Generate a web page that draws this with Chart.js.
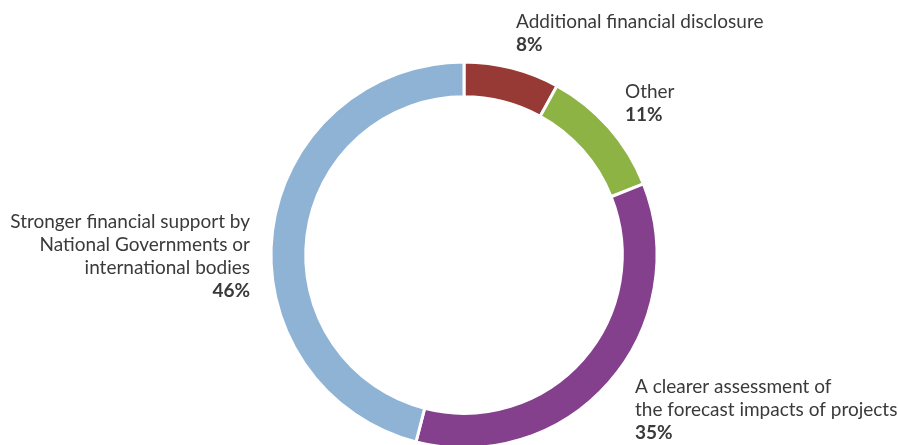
<!DOCTYPE html>
<html>
<head>
<meta charset="utf-8">
<script src="https://cdn.jsdelivr.net/npm/chart.js@4.4.0/dist/chart.umd.min.js"></script>
<style>
  html, body { margin: 0; padding: 0; background: #fff; overflow: hidden; }
  #wrap { width: 898px; height: 510px; }
</style>
</head>
<body>
<div id="wrap"><canvas id="donut"></canvas></div>
<script>
// -----------------------------
// Data
// -----------------------------
const categories = [
  "Additional financial disclosure",
  "Other",
  "A clearer assessment of the forecast impacts of projects",
  "Stronger financial support by National Governments or international bodies"
];
const shares = [8, 11, 35, 46];
const sliceColors = ["#973a35", "#8db344", "#843f8d", "#8fb3d4"];

// label text lines per slice (the bold percentage goes underneath)
const labelLines = [
  ["Additional financial disclosure"],
  ["Other"],
  ["A clearer assessment of", "the forecast impacts of projects"],
  ["Stronger financial support by", "National Governments or", "international bodies"]
];

// where each label block sits (first baseline), px
const labelAnchors = [
  { x: 516, y: 28, align: "left" },
  { x: 625, y: 98, align: "left" },
  { x: 635, y: 393, align: "left" },
  { x: 250, y: 228, align: "right" }
];

const FONT = "Lato, 'Open Sans', sans-serif";
const LINE_H = 23;

// -----------------------------
// Label plugin
// -----------------------------
const sliceLabels = {
  id: "sliceLabels",
  afterDraw(chart) {
    const ctx = chart.ctx;
    const values = chart.data.datasets[0].data;
    ctx.save();
    ctx.fillStyle = "#3a3a3a";
    ctx.textBaseline = "alphabetic";
    labelLines.forEach((lines, i) => {
      const a = labelAnchors[i];
      ctx.textAlign = a.align;
      ctx.font = "19px " + FONT;
      lines.forEach((t, j) => ctx.fillText(t, a.x, a.y + j * LINE_H));
      ctx.font = "bold 19px " + FONT;
      ctx.fillText(values[i] + "%", a.x, a.y + lines.length * LINE_H);
    });
    ctx.restore();
  }
};

// -----------------------------
// Chart
// -----------------------------
new Chart(document.getElementById("donut"), {
  type: "doughnut",
  data: {
    labels: categories,
    datasets: [{
      data: shares,
      backgroundColor: sliceColors,
      borderColor: "#ffffff",
      borderWidth: 3,
      hoverOffset: 0
    }]
  },
  options: {
    responsive: true,
    maintainAspectRatio: false,
    animation: false,
    radius: 193,
    cutout: "82%",
    layout: { padding: { left: 30, right: 0, top: 0, bottom: 0 } },
    plugins: {
      legend: { display: false },
      tooltip: { enabled: false }
    }
  },
  plugins: [sliceLabels]
});
</script>
</body>
</html>
